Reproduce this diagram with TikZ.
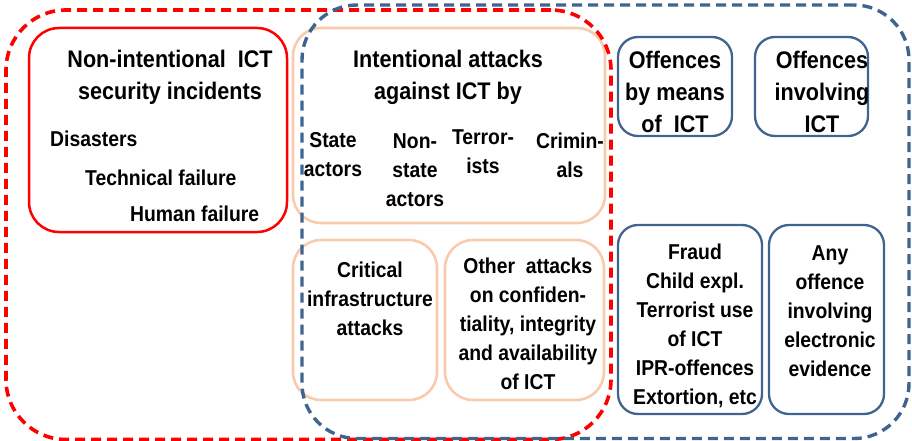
\documentclass[tikz,border=0pt]{standalone}
\usepackage{fontspec}
\setmainfont[FakeStretch=0.9]{Liberation Sans}
\usetikzlibrary{positioning}
\definecolor{RedLine}{HTML}{FF0000}
\definecolor{BlueLine}{HTML}{3F648F}
\definecolor{Peach}{HTML}{F8CBAD}
\newcommand{\Panel}[6]{%
  \node[#2,minimum width={(#5-#3)*1pt},minimum height={(#6-#4)*1pt}] (#1) at ({(#3+#5)/2},{(#4+#6)/2}) {};%
}

\begin{document}
\begin{tikzpicture}[x=1pt,y=-1pt,
  panel/.style={draw,inner sep=0pt,outer sep=0pt},
  redbox/.style={panel,RedLine,line width=2.5pt,rounded corners=30pt},
  peachbox/.style={panel,Peach,line width=2.6pt,rounded corners=28pt},
  bluebox/.style={panel,BlueLine,line width=2.3pt,rounded corners=20pt},
  redzone/.style={panel,RedLine,line width=3.6pt,dash pattern=on 10pt off 6pt,rounded corners=60pt},
  bluezone/.style={panel,BlueLine,line width=3.4pt,dash pattern=on 10pt off 6pt,rounded corners=55pt},
  bigtxt/.style={font=\bfseries\fontsize{24}{32}\selectfont,align=center,inner sep=0pt},
  txt/.style={font=\bfseries\fontsize{21.5}{29}\selectfont,align=center,inner sep=0pt}]
\useasboundingbox (0,0) rectangle (912,441);

% boxes
\Panel{nonint}{redbox}{29}{28}{287}{232}
\Panel{intent}{peachbox}{293}{28}{605}{223}
\Panel{critical}{peachbox}{293}{240}{437}{400}
\Panel{otherat}{peachbox}{445}{240}{604}{400}
\Panel{bymeans}{bluebox}{618}{37}{732}{136}
\Panel{involv}{bluebox}{755}{37}{868}{136}
\Panel{fraud}{bluebox}{618}{225}{762}{414}
\Panel{anyoff}{bluebox}{769}{225}{884}{414}

% texts
\node[bigtxt] (nonintT) at (170,77) {Non-intentional\ \ ICT\\security incidents};
\node[txt,anchor=west] (disast) at (50,139) {Disasters};
\node[txt,anchor=west] (techf) at (85,178) {Technical failure};
\node[txt,anchor=west] (humanf) at (130,214) {Human failure};

\node[bigtxt] (intentT) at (448,77) {Intentional attacks\\against ICT by};
\node[txt] (state) at (333,155) {State\\actors};
\node[txt] (nonstate) at (415,170) {Non-\\state\\actors};
\node[txt] (terror) at (483,152) {Terror-\\ists};
\node[txt] (crimin) at (570,155) {Crimin-\\als};

\node[txt] (criticalT) at (370,299) {Critical\\infrastructure\\attacks};
\node[txt] (otheratT) at (528,324) {Other\ \ attacks\\on confiden-\\tiality, integrity\\and availability\\of ICT};

\node[bigtxt] (bymeansT) at (675,92) {Offences\\by means\\of\ \ ICT};
\node[bigtxt] (involvT) at (822,92) {Offences\\involving\\ICT};
\node[txt] (fraudT) at (695,326) {Fraud\\Child expl.\\Terrorist use\\of ICT\\IPR-offences\\Extortion, etc};
\node[txt] (anyoffT) at (830,311) {Any\\offence\\involving\\electronic\\evidence};

% dashed zones
\Panel{redarea}{redzone}{6}{10}{611}{439.5}
\Panel{bluearea}{bluezone}{302}{5}{909}{438.5}
\end{tikzpicture}
\end{document}
